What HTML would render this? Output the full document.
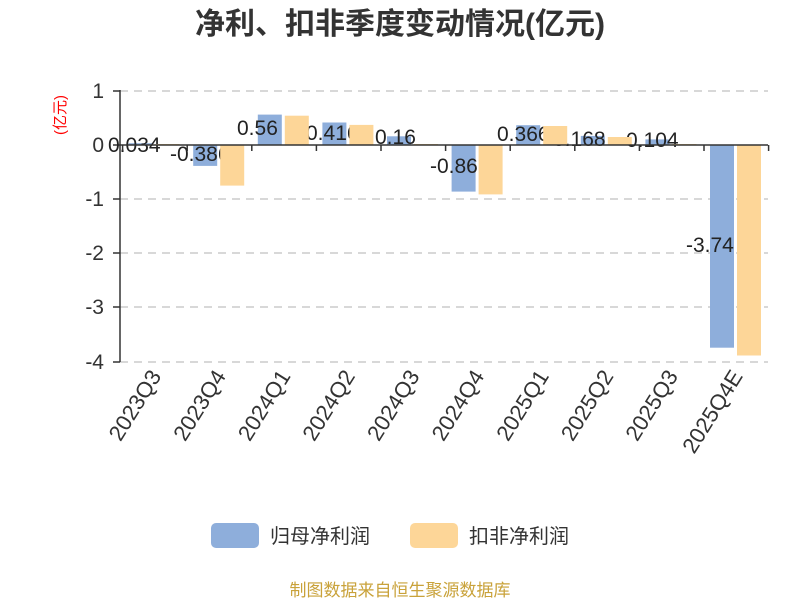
<!DOCTYPE html>
<html><head><meta charset="utf-8"><style>
body{margin:0;background:#fff;}
svg{display:block;font-family:"Liberation Sans","Noto Sans CJK SC",sans-serif;}
</style></head><body>
<svg width="800" height="600" viewBox="0 0 800 600">
<text x="400" y="34" text-anchor="middle" font-size="30" font-weight="bold" fill="#333">净利、扣非季度变动情况(亿元)</text>
<text transform="translate(65,115) rotate(-90)" text-anchor="middle" font-size="15" fill="#f00">(亿元)</text>
<g stroke="#ccc" stroke-width="1.5" stroke-dasharray="8,6">
<line x1="120" y1="91" x2="768" y2="91"/>
<line x1="120" y1="199" x2="768" y2="199"/>
<line x1="120" y1="253" x2="768" y2="253"/>
<line x1="120" y1="307" x2="768" y2="307"/>
<line x1="120" y1="362" x2="768" y2="362"/>
</g>
<g font-size="21" fill="#333" text-anchor="end">
<text x="104" y="98">1</text>
<text x="104" y="152">0</text>
<text x="104" y="206">-1</text>
<text x="104" y="260">-2</text>
<text x="104" y="314">-3</text>
<text x="104" y="369">-4</text>
</g>
<g stroke="#333" stroke-width="1.5">
<line x1="120" y1="90" x2="120" y2="362"/>
<line x1="113" y1="91" x2="120" y2="91"/>
<line x1="113" y1="145" x2="120" y2="145"/>
<line x1="113" y1="199" x2="120" y2="199"/>
<line x1="113" y1="253" x2="120" y2="253"/>
<line x1="113" y1="307" x2="120" y2="307"/>
<line x1="113" y1="362" x2="120" y2="362"/>
</g>
<g fill="#8eaedb">
<rect x="128.6" y="143.2" width="24" height="1.8"/>
<rect x="193.2" y="145" width="24" height="20.9"/>
<rect x="257.8" y="114.6" width="24" height="30.4"/>
<rect x="322.4" y="122.5" width="24" height="22.5"/>
<rect x="387" y="136.3" width="24" height="8.7"/>
<rect x="451.6" y="145" width="24" height="46.6"/>
<rect x="516.2" y="125.2" width="24" height="19.8"/>
<rect x="580.8" y="135.9" width="24" height="9.1"/>
<rect x="645.4" y="139.4" width="24" height="5.6"/>
<rect x="710" y="145" width="24" height="202.7"/>
</g>
<g font-size="21" fill="#222">
<text x="108" y="152">0.034</text>
<text x="170" y="161">-0.386</text>
<text x="237" y="135">0.56</text>
<text x="306" y="140">0.416</text>
<text x="375" y="144">0.16</text>
<text x="430" y="173">-0.86</text>
<text x="497" y="141">0.366</text>
<text x="553" y="146">0.168</text>
<text x="626" y="147">0.104</text>
<text x="686" y="252">-3.74</text>
</g>
<g fill="#fdd698">
<rect x="155.6" y="144" width="24" height="1"/>
<rect x="220.2" y="145" width="24" height="40.6"/>
<rect x="284.8" y="115.7" width="24" height="29.3"/>
<rect x="349.4" y="124.9" width="24" height="20.1"/>
<rect x="414" y="144" width="24" height="1"/>
<rect x="478.6" y="145" width="24" height="49.4"/>
<rect x="543.2" y="126" width="24" height="19"/>
<rect x="607.8" y="137" width="24" height="8"/>
<rect x="672.4" y="144" width="24" height="1"/>
<rect x="737" y="145" width="24" height="210.5"/>
</g>
<g stroke="#333" stroke-width="1.5">
<line x1="120" y1="145" x2="768" y2="145"/>
<line x1="122.6" y1="145" x2="122.6" y2="151"/>
<line x1="187.2" y1="145" x2="187.2" y2="151"/>
<line x1="251.8" y1="145" x2="251.8" y2="151"/>
<line x1="316.4" y1="145" x2="316.4" y2="151"/>
<line x1="381" y1="145" x2="381" y2="151"/>
<line x1="445.6" y1="145" x2="445.6" y2="151"/>
<line x1="510.2" y1="145" x2="510.2" y2="151"/>
<line x1="574.8" y1="145" x2="574.8" y2="151"/>
<line x1="639.4" y1="145" x2="639.4" y2="151"/>
<line x1="704" y1="145" x2="704" y2="151"/>
<line x1="768.6" y1="145" x2="768.6" y2="151"/>
</g>
<g font-size="22" fill="#333" text-anchor="end">
<text transform="translate(162,376) rotate(-58)">2023Q3</text>
<text transform="translate(226.6,376) rotate(-58)">2023Q4</text>
<text transform="translate(291.2,376) rotate(-58)">2024Q1</text>
<text transform="translate(355.8,376) rotate(-58)">2024Q2</text>
<text transform="translate(420.4,376) rotate(-58)">2024Q3</text>
<text transform="translate(485,376) rotate(-58)">2024Q4</text>
<text transform="translate(549.6,376) rotate(-58)">2025Q1</text>
<text transform="translate(614.2,376) rotate(-58)">2025Q2</text>
<text transform="translate(678.8,376) rotate(-58)">2025Q3</text>
<text transform="translate(743.4,376) rotate(-58)">2025Q4E</text>
</g>
<rect x="211" y="523" width="48" height="25" rx="5" fill="#8eaedb"/>
<text x="270" y="543" font-size="20" fill="#333">归母净利润</text>
<rect x="410" y="523" width="48" height="25" rx="5" fill="#fdd698"/>
<text x="469" y="543" font-size="20" fill="#333">扣非净利润</text>
<text x="400" y="596" text-anchor="middle" font-size="17" fill="#c9a23a">制图数据来自恒生聚源数据库</text>
</svg>
</body></html>
